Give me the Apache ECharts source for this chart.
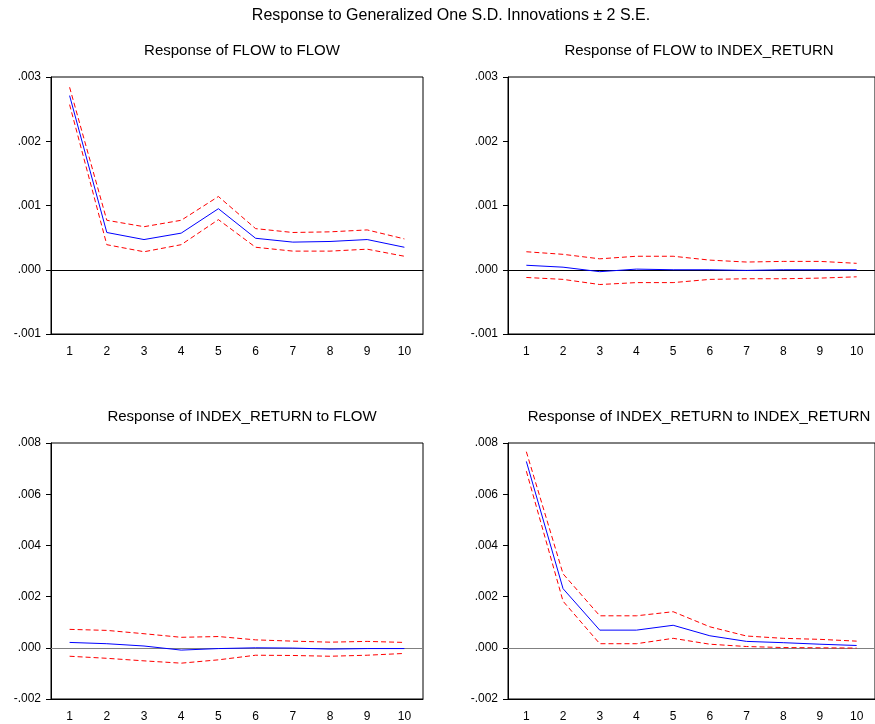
<!DOCTYPE html>
<html>
<head>
<meta charset="utf-8">
<script src="https://cdn.jsdelivr.net/npm/echarts@6/dist/echarts.min.js"></script>
<style>
html, body { margin: 0; padding: 0; background: #fff; }
#chart { width: 875px; height: 724px; }
</style>
</head>
<body>
<div id="chart"></div>
<script>
var periods = ['1', '2', '3', '4', '5', '6', '7', '8', '9', '10'];

// Response of FLOW to FLOW
var flowFlow = [0.00271, 0.00058, 0.00047, 0.00057, 0.00095, 0.00049, 0.00043, 0.00044, 0.00047, 0.00035];
var flowFlowUp = [0.00284, 0.00077, 0.00067, 0.00077, 0.00114, 0.00064, 0.00058, 0.00059, 0.00062, 0.00048];
var flowFlowLo = [0.00257, 0.00039, 0.00028, 0.00039, 0.00078, 0.00035, 0.00029, 0.00029, 0.00032, 0.00021];

// Response of FLOW to INDEX_RETURN
var flowIdx = [0.00007, 0.00004, -0.00003, 0.00001, 0.0, 0.0, -0.00001, 0.0, 0.0, 0.0];
var flowIdxUp = [0.00028, 0.00024, 0.00017, 0.00021, 0.00021, 0.00015, 0.00012, 0.00013, 0.00013, 0.00010];
var flowIdxLo = [-0.00012, -0.00015, -0.00023, -0.00020, -0.00020, -0.00015, -0.00014, -0.00014, -0.00013, -0.00011];

// Response of INDEX_RETURN to FLOW
var idxFlow = [0.00021, 0.00016, 0.00007, -0.00009, -0.00003, 0.0, -0.00001, -0.00005, -0.00003, -0.00003];
var idxFlowUp = [0.00072, 0.00068, 0.00055, 0.00041, 0.00044, 0.00031, 0.00026, 0.00022, 0.00025, 0.00021];
var idxFlowLo = [-0.00033, -0.00041, -0.00051, -0.00060, -0.00047, -0.00029, -0.00030, -0.00033, -0.00029, -0.00022];

// Response of INDEX_RETURN to INDEX_RETURN
var idxIdx = [0.00728, 0.00231, 0.00069, 0.00069, 0.00088, 0.00047, 0.00025, 0.0002, 0.00014, 0.00009];
var idxIdxUp = [0.00766, 0.00289, 0.00125, 0.00125, 0.00141, 0.00082, 0.00046, 0.00037, 0.00033, 0.00026];
var idxIdxLo = [0.0069, 0.00182, 0.00016, 0.00016, 0.00037, 0.00014, 0.00005, 0.00001, 0.0, -0.00001];

var panelTitles = ['Response of FLOW to FLOW', 'Response of FLOW to INDEX_RETURN',
    'Response of INDEX_RETURN to FLOW', 'Response of INDEX_RETURN to INDEX_RETURN'];

function chart(){
var myChart = echarts.init(document.getElementById('chart'));
var font = 'Liberation Sans, Arial, sans-serif';

var grids = [
    {left: 51, top: 77, width: 372, height: 257},
    {left: 508, top: 77, width: 372, height: 257},
    {left: 51, top: 443, width: 372, height: 256},
    {left: 508, top: 443, width: 372, height: 256}
];
var yRanges = [[-0.001, 0.003, 0.001], [-0.001, 0.003, 0.001], [-0.002, 0.008, 0.002], [-0.002, 0.008, 0.002]];
var zeroColors = ['#000', '#000', '#808080', '#808080'];
var panels = [
    [flowFlow, flowFlowUp, flowFlowLo],
    [flowIdx, flowIdxUp, flowIdxLo],
    [idxFlow, idxFlowUp, idxFlowLo],
    [idxIdx, idxIdxUp, idxIdxLo]
];

var titles = [{
    text: 'Response to Generalized One S.D. Innovations \u00b1 2 S.E.',
    left: 446, top: 3, textAlign: 'center',
    textStyle: {fontFamily: font, fontSize: 16, fontWeight: 'normal', color: '#000'}
}];
var xAxes = [], yAxes = [], series = [];
grids.forEach(function (g, i) {
    g.show = true;
    g.borderColor = '#000';
    g.borderWidth = 1;
    titles.push({
        text: panelTitles[i],
        left: g.left + g.width / 2,
        top: g.top - 39,
        textAlign: 'center',
        textStyle: {fontFamily: font, fontSize: 15, fontWeight: 'normal', color: '#000'}
    });
    xAxes.push({
        gridIndex: i,
        type: 'category',
        data: periods,
        boundaryGap: true,
        axisLine: {onZero: false, lineStyle: {color: '#000', width: 1}},
        axisTick: {length: 6, lineStyle: {color: '#000'}},
        axisLabel: {fontFamily: font, fontSize: 12, color: '#000', margin: 12},
        splitLine: {show: false}
    });
    yAxes.push({
        gridIndex: i,
        type: 'value',
        min: yRanges[i][0],
        max: yRanges[i][1],
        interval: yRanges[i][2],
        axisLine: {show: true, lineStyle: {color: '#000', width: 1}},
        axisTick: {show: true, length: 5, lineStyle: {color: '#000'}},
        axisLabel: {
            fontFamily: font, fontSize: 12, color: '#000', margin: 10,
            formatter: function (v) {
                return v.toFixed(3).replace('0.', '.');
            }
        },
        splitLine: {show: false}
    });
    series.push({
        type: 'line', xAxisIndex: i, yAxisIndex: i,
        data: panels[i][0],
        symbol: 'none',
        lineStyle: {color: '#0000ff', width: 1},
        z: 3
    });
    [1, 2].forEach(function (k) {
        series.push({
            type: 'line', xAxisIndex: i, yAxisIndex: i,
            data: panels[i][k],
            symbol: 'none',
            lineStyle: {color: '#ff0000', width: 1, type: [5, 3]},
            z: 2
        });
    });
});
// zero reference line: an extra x axis per grid sitting on y = 0
grids.forEach(function (g, i) {
    xAxes.push({
        gridIndex: i,
        type: 'category',
        data: periods,
        axisLine: {show: true, onZero: true, lineStyle: {color: zeroColors[i], width: 1}},
        axisTick: {show: false},
        axisLabel: {show: false},
        splitLine: {show: false}
    });
});

option = {
    animation: false,
    backgroundColor: '#fff',
    title: titles,
    grid: grids,
    xAxis: xAxes,
    yAxis: yAxes,
    series: series
};
myChart.setOption(option);
}
chart();
</script>
</body>
</html>
